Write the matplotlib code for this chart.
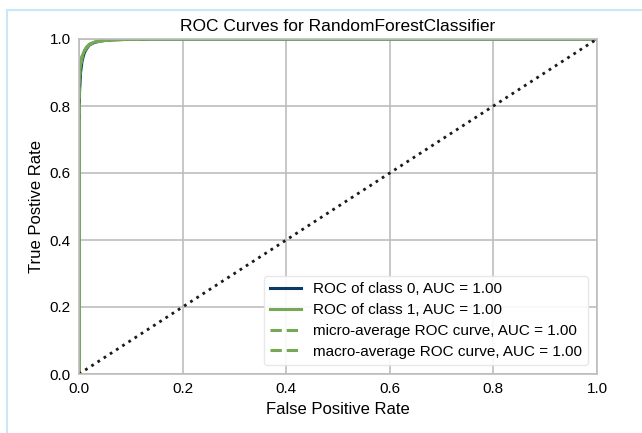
import matplotlib
matplotlib.use("Agg")
import matplotlib.pyplot as plt
from matplotlib.patches import Rectangle

plt.rcParams['font.family'] = ['Liberation Sans', 'DejaVu Sans']

# ROC curve points (false positive rate, true positive rate)
fpr_class0 = [0.0, 0.0, 0.001, 0.003, 0.006, 0.01, 0.015, 0.02, 0.03, 0.045, 0.07, 0.1, 0.15, 1.0]
tpr_class0 = [0.0, 0.74, 0.84, 0.9, 0.935, 0.958, 0.972, 0.982, 0.99, 0.995, 0.998, 0.999, 1.0, 1.0]
fpr_class1 = [0.0, 0.0, 0.001, 0.003, 0.006, 0.01, 0.015, 0.02, 0.03, 0.045, 0.07, 0.1, 0.15, 1.0]
tpr_class1 = [0.0, 0.84, 0.89, 0.925, 0.948, 0.964, 0.976, 0.984, 0.991, 0.995, 0.998, 0.999, 1.0, 1.0]
fpr_micro = [0.0, 0.0, 0.001, 0.003, 0.006, 0.01, 0.015, 0.02, 0.03, 0.045, 0.07, 0.1, 0.15, 1.0]
tpr_micro = [0.0, 0.84, 0.89, 0.925, 0.948, 0.964, 0.976, 0.984, 0.991, 0.995, 0.998, 0.999, 1.0, 1.0]
fpr_macro = [0.0, 0.0, 0.001, 0.003, 0.006, 0.01, 0.015, 0.02, 0.03, 0.045, 0.07, 0.1, 0.15, 1.0]
tpr_macro = [0.0, 0.83, 0.885, 0.922, 0.946, 0.963, 0.975, 0.983, 0.99, 0.995, 0.998, 0.999, 1.0, 1.0]

labels = [
    "ROC of class 0, AUC = 1.00",
    "ROC of class 1, AUC = 1.00",
    "micro-average ROC curve, AUC = 1.00",
    "macro-average ROC curve, AUC = 1.00",
]
ticks = [0.0, 0.2, 0.4, 0.6, 0.8, 1.0]

fig = plt.figure(figsize=(6.42, 4.33), dpi=100)
fig.patch.set_facecolor("white")

# light blue frame around the figure
fig.patches.append(Rectangle((7 / 642, -0.05), 1.1, 1 - 10 / 433 + 0.05,
                             transform=fig.transFigure, fill=False,
                             edgecolor="#cbe6f7", linewidth=1.5))

ax = fig.add_axes([79 / 642, 1 - 374 / 433, (597 - 79) / 642, (374 - 39) / 433])
ax.set_facecolor("white")

green = "#76a955"
ax.plot(fpr_class0, tpr_class0, color="#0b3a66", linewidth=2.2, label=labels[0])
ax.plot(fpr_class1, tpr_class1, color=green, linewidth=2.2, label=labels[1])
ax.plot(fpr_micro, tpr_micro, color=green, linewidth=2.2, linestyle="--", label=labels[2])
ax.plot(fpr_macro, tpr_macro, color=green, linewidth=2.2, linestyle="--", label=labels[3])
ax.plot([0, 1], [0, 1], color="#1a1a1a", linestyle=":", linewidth=2)

ax.set_xlim(0, 1)
ax.set_ylim(0, 1)
ax.set_xticks(ticks)
ax.set_yticks(ticks)
ax.set_xticklabels([f"{t:.1f}" for t in ticks], fontsize=11)
ax.set_yticklabels([f"{t:.1f}" for t in ticks], fontsize=11)
ax.tick_params(length=0, pad=6)
ax.grid(True, color="#bdbdbd", linewidth=1.2)
ax.set_axisbelow(True)
for s in ax.spines.values():
    s.set_color("#bdbdbd")
    s.set_linewidth(1.2)

ax.set_title("ROC Curves for RandomForestClassifier", fontsize=12.5, pad=6)
ax.set_xlabel("False Positive Rate", fontsize=12)
ax.set_ylabel("True Postive Rate", fontsize=12)

leg = ax.legend(loc="lower right", fontsize=11, frameon=True, framealpha=0.9,
                edgecolor="#e6e6e6", borderaxespad=0.6, labelspacing=0.45)

fig.savefig("out.png", dpi=100, facecolor="white")
